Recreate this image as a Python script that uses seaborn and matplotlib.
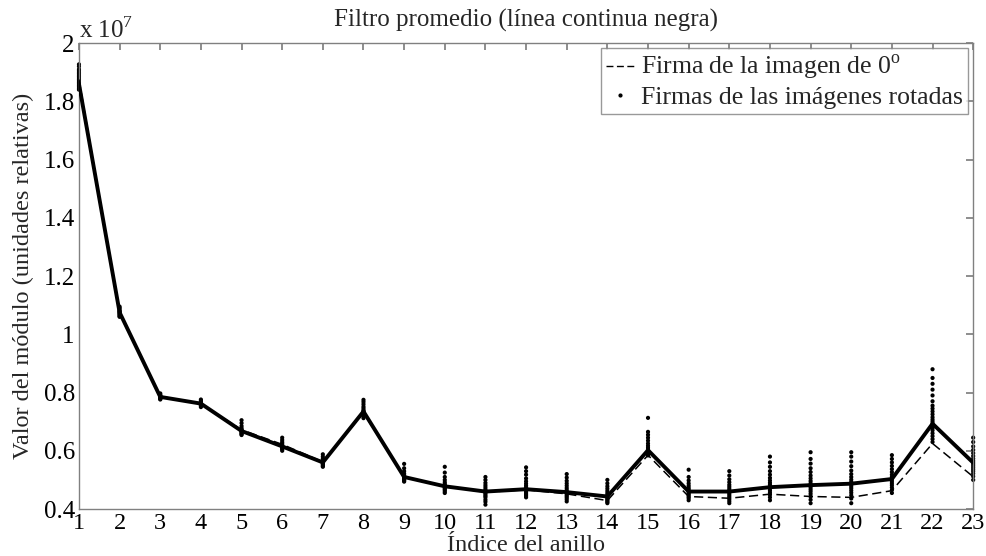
import matplotlib
matplotlib.use("Agg")
import matplotlib.pyplot as plt
from matplotlib.lines import Line2D
import seaborn as sns
import pandas as pd

rings = list(range(1, 24))

mean_filter = [1.86, 1.075, 0.785, 0.762, 0.668, 0.615, 0.56, 0.735, 0.51, 0.478,
               0.46, 0.468, 0.458, 0.443, 0.602, 0.46, 0.46, 0.475, 0.482, 0.487,
               0.503, 0.693, 0.559]

signature_0 = [1.875, 1.07, 0.787, 0.762, 0.672, 0.622, 0.562, 0.73, 0.51, 0.478,
               0.458, 0.466, 0.452, 0.429, 0.585, 0.443, 0.437, 0.451, 0.443, 0.44,
               0.463, 0.625, 0.511]

rotated = [
    [1.927, 1.92, 1.91, 1.905, 1.90, 1.895, 1.89, 1.885, 1.88, 1.875, 1.87, 1.865, 1.86, 1.855, 1.85, 1.845, 1.84],
    [1.095, 1.09, 1.085, 1.08, 1.078, 1.075, 1.073, 1.07, 1.068, 1.065, 1.062, 1.06],
    [0.797, 0.793, 0.79, 0.788, 0.786, 0.785, 0.784, 0.782, 0.78, 0.778, 0.776],
    [0.776, 0.772, 0.768, 0.765, 0.763, 0.761, 0.759, 0.757, 0.754, 0.75],
    [0.705, 0.695, 0.685, 0.678, 0.673, 0.67, 0.668, 0.666, 0.663, 0.66, 0.657, 0.654],
    [0.645, 0.637, 0.63, 0.625, 0.62, 0.617, 0.614, 0.611, 0.608, 0.605, 0.6],
    [0.588, 0.58, 0.573, 0.568, 0.564, 0.561, 0.558, 0.555, 0.552, 0.548, 0.545],
    [0.775, 0.768, 0.76, 0.752, 0.746, 0.74, 0.736, 0.733, 0.73, 0.727, 0.723, 0.718, 0.712],
    [0.555, 0.54, 0.53, 0.522, 0.516, 0.512, 0.509, 0.506, 0.503, 0.5, 0.497, 0.494],
    [0.545, 0.525, 0.51, 0.5, 0.492, 0.486, 0.481, 0.477, 0.473, 0.469, 0.465, 0.46, 0.455],
    [0.51, 0.5, 0.49, 0.482, 0.475, 0.468, 0.463, 0.459, 0.455, 0.45, 0.445, 0.44, 0.432, 0.425, 0.415],
    [0.543, 0.53, 0.518, 0.505, 0.495, 0.487, 0.48, 0.474, 0.469, 0.465, 0.46, 0.455, 0.45, 0.445, 0.44],
    [0.52, 0.508, 0.497, 0.488, 0.48, 0.472, 0.465, 0.459, 0.454, 0.449, 0.444, 0.439, 0.433, 0.426],
    [0.5, 0.488, 0.478, 0.47, 0.462, 0.455, 0.449, 0.444, 0.44, 0.436, 0.432, 0.428, 0.424, 0.42],
    [0.713, 0.665, 0.655, 0.645, 0.635, 0.625, 0.617, 0.61, 0.604, 0.598, 0.593, 0.588, 0.584],
    [0.535, 0.51, 0.498, 0.488, 0.48, 0.473, 0.467, 0.462, 0.457, 0.452, 0.447, 0.442, 0.437, 0.43],
    [0.53, 0.515, 0.502, 0.492, 0.483, 0.476, 0.469, 0.463, 0.458, 0.452, 0.446, 0.44, 0.434, 0.427, 0.42],
    [0.58, 0.56, 0.545, 0.53, 0.518, 0.507, 0.498, 0.49, 0.483, 0.476, 0.47, 0.463, 0.456, 0.449, 0.44, 0.43],
    [0.595, 0.572, 0.556, 0.54, 0.527, 0.515, 0.505, 0.496, 0.488, 0.481, 0.474, 0.467, 0.46, 0.452, 0.443, 0.432, 0.42],
    [0.595, 0.58, 0.563, 0.547, 0.532, 0.52, 0.51, 0.501, 0.493, 0.486, 0.479, 0.472, 0.464, 0.456, 0.447, 0.436, 0.42],
    [0.585, 0.572, 0.56, 0.548, 0.537, 0.527, 0.518, 0.51, 0.503, 0.496, 0.489, 0.482, 0.474, 0.465, 0.455],
    [0.88, 0.85, 0.83, 0.81, 0.79, 0.77, 0.755, 0.745, 0.735, 0.725, 0.715, 0.707, 0.7, 0.693, 0.686, 0.678, 0.67, 0.66, 0.65, 0.64, 0.63],
    [0.645, 0.63, 0.615, 0.603, 0.592, 0.582, 0.573, 0.565, 0.558, 0.551, 0.544, 0.537, 0.53, 0.522, 0.512, 0.5],
]

y_ticks = [0.4, 0.6, 0.8, 1.0, 1.2, 1.4, 1.6, 1.8, 2.0]

sns.set_theme(style="white")
plt.rcParams["font.family"] = ["Liberation Serif", "DejaVu Serif"]
plt.rcParams["mathtext.fontset"] = "custom"
plt.rcParams["mathtext.rm"] = "Liberation Serif"

lines_df = pd.DataFrame({"ring": rings, "mean": mean_filter, "sig0": signature_0})
dots_df = pd.DataFrame(
    [(r, v) for r, vals in zip(rings, rotated) for v in vals],
    columns=["ring", "value"],
)

fig = plt.figure(figsize=(9.87, 5.56), dpi=100)
ax = fig.add_axes([0.080, 0.0845, 0.906, 0.838])

sns.scatterplot(data=dots_df, x="ring", y="value", ax=ax, color="black", s=9,
                edgecolor="none", legend=False, zorder=2, clip_on=False)
sns.lineplot(data=lines_df, x="ring", y="sig0", ax=ax, color="black", lw=1.1,
             linestyle=(0, (6, 3)), legend=False, zorder=3)
sns.lineplot(data=lines_df, x="ring", y="mean", ax=ax, color="black", lw=2.8,
             legend=False, zorder=4)

ax.set_xlim(1, 23)
ax.set_ylim(0.4, 2.0)
ax.set_xticks(rings)
ax.set_yticks(y_ticks)
ax.set_yticklabels([f"{v:g}" for v in y_ticks])
ax.tick_params(direction="in", length=5, color="#808080", labelsize=18,
               top=True, right=True, labelcolor="black")
ax.tick_params(axis="x", pad=3, labelsize=17.5)
ax.tick_params(axis="y", pad=3)
for s in ax.spines.values():
    s.set_color("#808080")
    s.set_linewidth(1.0)

ax.set_title("Filtro promedio (línea continua negra)", fontsize=18, pad=12)
ax.set_xlabel("Índice del anillo", fontsize=17.5, labelpad=0.5)
ax.set_ylabel("Valor del módulo (unidades relativas)", fontsize=17.5, labelpad=7)
ax.text(0.0, 1.0, r"x 10$^{7}$", transform=ax.transAxes, fontsize=18,
        ha="left", va="bottom")

handles = [
    Line2D([0], [0], color="black", lw=1.0, linestyle=(0, (5, 2.5))),
    Line2D([0], [0], color="black", lw=0, marker=".", markersize=4),
]
leg = ax.legend(handles, [r"Firma de la imagen de 0$^{\mathrm{o}}$",
                          "Firmas de las imágenes rotadas"],
                loc="upper right", fontsize=18.5, frameon=True, fancybox=False,
                handlelength=1.1, handletextpad=0.25, borderpad=0.2,
                labelspacing=0.12, borderaxespad=0.2)
leg.get_frame().set_edgecolor("#808080")
leg.get_frame().set_linewidth(1.0)

fig.savefig("out.png", dpi=100)
